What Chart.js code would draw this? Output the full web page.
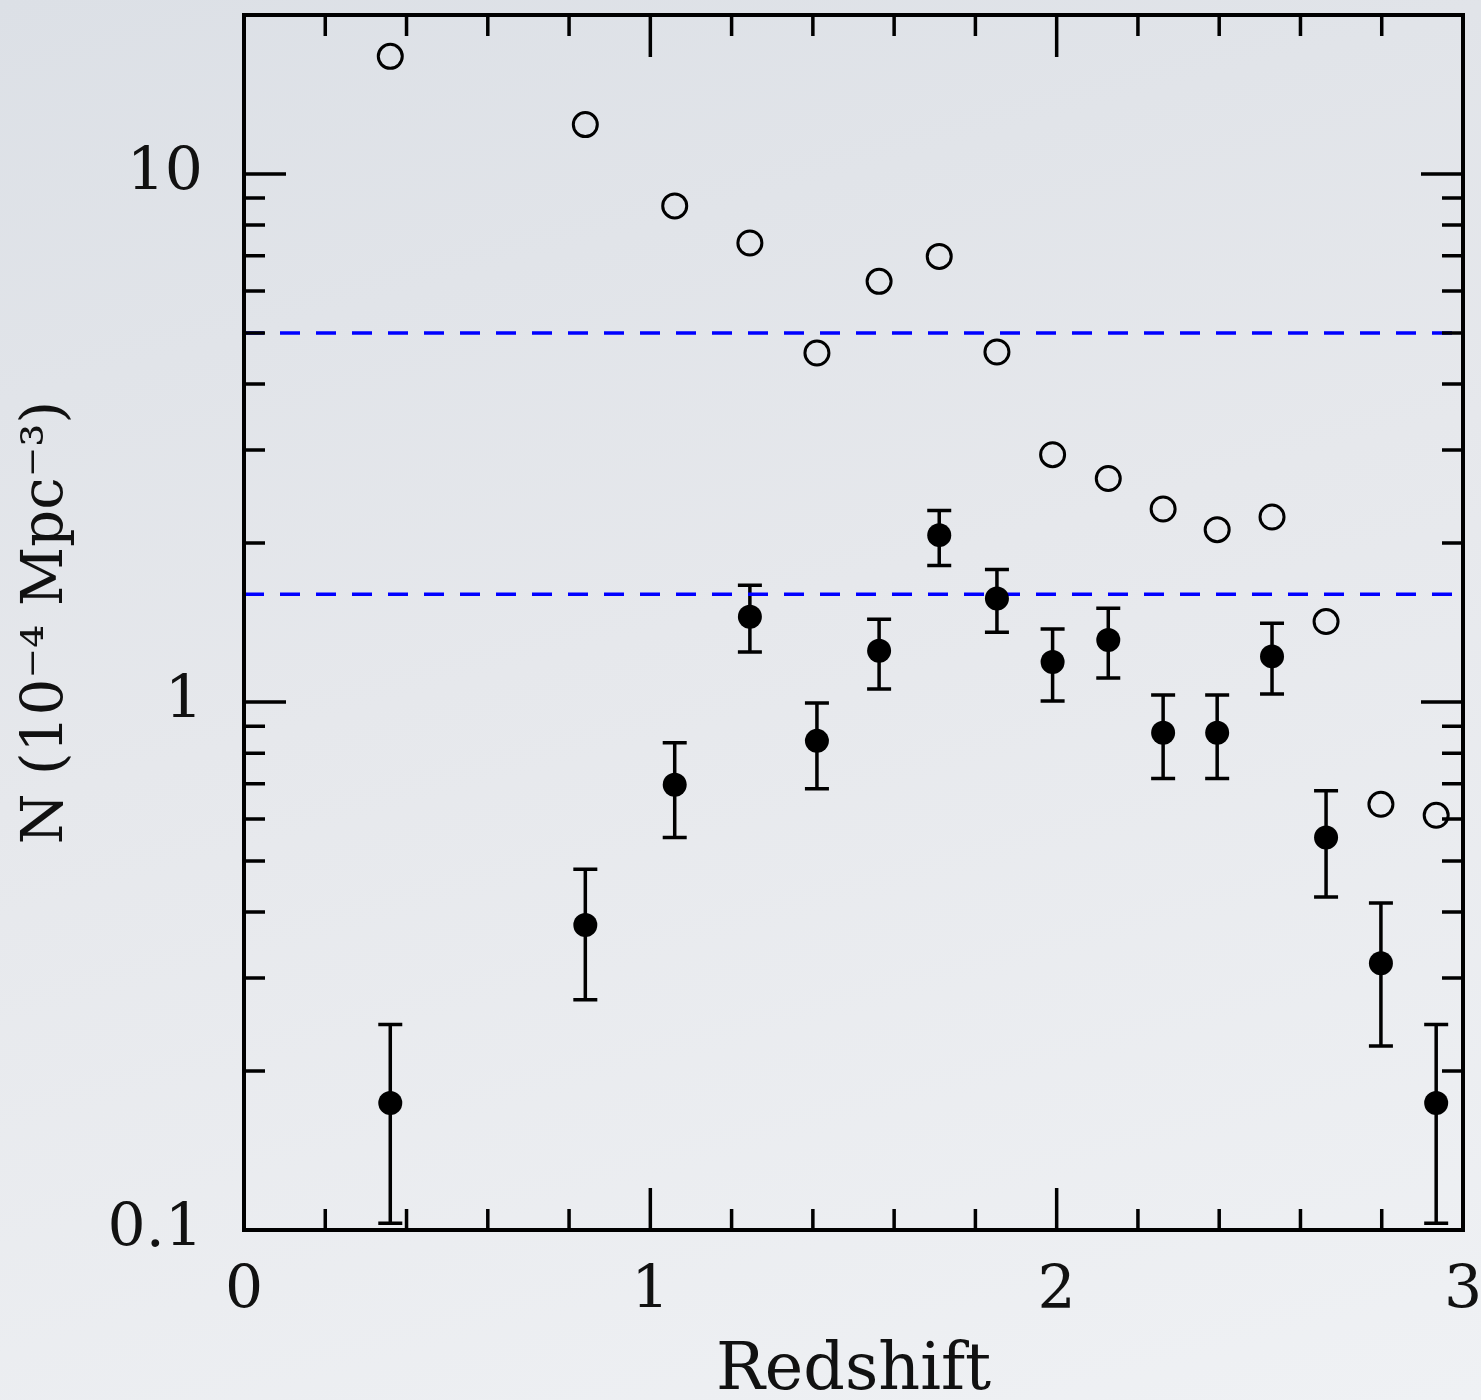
<!DOCTYPE html>
<html>
<head>
<meta charset="utf-8">
<script src="https://cdn.jsdelivr.net/npm/chart.js@4.4.0/dist/chart.umd.min.js"></script>
<style>
  html, body { margin: 0; padding: 0; }
  body {
    width: 1481px; height: 1400px; overflow: hidden;
    background: linear-gradient(165deg, #dce0e6 0%, #e6e8ec 45%, #eff1f4 100%);
  }
</style>
</head>
<body>
<canvas id="chart" width="1481" height="1400"></canvas>
<script>
// values (N in units of 1e-4 Mpc^-3)
var redshift = [0.36, 0.84, 1.06, 1.245, 1.41, 1.563, 1.711, 1.853, 1.99, 2.127, 2.262, 2.395, 2.53, 2.663, 2.798, 2.934]
var totalDensity = [16.7, 12.4, 8.7, 7.4, 4.58, 6.26, 6.98, 4.6, 2.94, 2.65, 2.32, 2.12, 2.24, 1.42, 0.64, 0.61]
var sampleDensity = [0.174, 0.378, 0.697, 1.45, 0.844, 1.25, 2.07, 1.57, 1.19, 1.31, 0.874, 0.874, 1.22, 0.554, 0.32, 0.174]
var sampleLow = [0.103, 0.273, 0.554, 1.243, 0.685, 1.058, 1.814, 1.356, 1.004, 1.11, 0.716, 0.716, 1.035, 0.427, 0.223, 0.103]
var sampleHigh = [0.245, 0.482, 0.837, 1.663, 0.996, 1.434, 2.305, 1.782, 1.374, 1.505, 1.031, 1.031, 1.41, 0.679, 0.416, 0.245]
var refLevels = [5, 1.6]
var xTickValues = [0, 1, 2, 3]
var xTickLabels = ['0', '1', '2', '3']
var yTicks = [0.1, 0.2, 0.3, 0.4, 0.5, 0.6, 0.7, 0.8, 0.9, 1, 2, 3, 4, 5, 6, 7, 8, 9, 10]
var yTickValues = [0.1, 1, 10]
var yTickLabels = ['0.1', '1', '10']

var serif = "'DejaVu Serif', 'Liberation Serif', serif"

function pts(xs, ys) {
    var out = []
    for (var i = 0; i < xs.length; i++) out.push({ x: xs[i], y: ys[i] })
    return out
}

function pickLabel(value, vals, labels) {
    for (var i = 0; i < vals.length; i++) {
        if (Math.abs(value - vals[i]) < 1e-6 * Math.max(1, Math.abs(vals[i]))) return labels[i]
    }
    return ''
}

// no extra room for overflowing labels, the layout padding handles it
function noLabelPadding(s) {
    s.paddingTop = 0
    s.paddingBottom = 0
    s.paddingLeft = 0
    s.paddingRight = 0
}

// vertical error bars with flat caps, under the filled points
var errorBars = {
    id: 'errorBars',
    beforeDatasetsDraw: function (chart) {
        var ctx = chart.ctx
        var xs = chart.scales.x
        var ys = chart.scales.y
        ctx.save()
        ctx.strokeStyle = '#000'
        ctx.lineWidth = 3.5
        for (var i = 0; i < redshift.length; i++) {
            var px = xs.getPixelForValue(redshift[i])
            var lo = ys.getPixelForValue(sampleLow[i])
            var hi = ys.getPixelForValue(sampleHigh[i])
            ctx.beginPath()
            ctx.moveTo(px, lo); ctx.lineTo(px, hi)
            ctx.moveTo(px - 12, lo); ctx.lineTo(px + 12, lo)
            ctx.moveTo(px - 12, hi); ctx.lineTo(px + 12, hi)
            ctx.stroke()
        }
        ctx.restore()
    }
}

// box frame with inward ticks on all four sides
var frameTicks = {
    id: 'frameTicks',
    afterDraw: function (chart) {
        var ctx = chart.ctx
        var a = chart.chartArea
        var xs = chart.scales.x
        var ys = chart.scales.y
        ctx.save()
        ctx.strokeStyle = '#000'
        ctx.lineWidth = 3.5
        ctx.beginPath()
        xs.ticks.forEach(function (t) {
            var px = xs.getPixelForValue(t.value)
            var len = t.label ? 42 : 21
            ctx.moveTo(px, a.bottom); ctx.lineTo(px, a.bottom - len)
            ctx.moveTo(px, a.top); ctx.lineTo(px, a.top + len)
        })
        ys.ticks.forEach(function (t) {
            var py = ys.getPixelForValue(t.value)
            var len = t.label ? 42 : 21
            ctx.moveTo(a.left, py); ctx.lineTo(a.left + len, py)
            ctx.moveTo(a.right, py); ctx.lineTo(a.right - len, py)
        })
        ctx.stroke()
        ctx.lineWidth = 4
        ctx.strokeRect(a.left, a.top, a.right - a.left, a.bottom - a.top)
        ctx.restore()
    }
}

var datasets = [
    {
        label: 'sample',
        data: pts(redshift, sampleDensity),
        pointStyle: 'circle',
        pointRadius: 12,
        pointBackgroundColor: '#000',
        pointBorderColor: '#000',
        pointBorderWidth: 0,
        showLine: false
    },
    {
        label: 'total',
        data: pts(redshift, totalDensity),
        pointStyle: 'circle',
        pointRadius: 12,
        pointBackgroundColor: 'rgba(0,0,0,0)',
        pointBorderColor: '#000',
        pointBorderWidth: 3,
        showLine: false
    }
]
refLevels.forEach(function (lvl) {
    datasets.push({
        type: 'line',
        label: 'level ' + lvl,
        data: [{ x: 0, y: lvl }, { x: 3, y: lvl }],
        borderColor: '#0000ff',
        borderWidth: 3.5,
        borderDash: [20, 16],
        pointRadius: 0,
        fill: false
    })
})

var ctx = document.getElementById('chart').getContext('2d')
var chart = new Chart(ctx, {
    type: 'scatter',
    data: { datasets: datasets },
    options: {
        responsive: false,
        animation: false,
        layout: { padding: { top: 11, right: 18, left: 0, bottom: 0 } },
        plugins: {
            legend: { display: false },
            tooltip: { enabled: false }
        },
        scales: {
            x: {
                type: 'linear',
                min: 0,
                max: 3,
                grid: { display: false, drawTicks: false },
                border: { display: false },
                ticks: {
                    stepSize: 0.2,
                    autoSkip: false,
                    maxRotation: 0,
                    padding: 26,
                    color: '#111',
                    font: { family: serif, size: 60 },
                    callback: function (v) { return pickLabel(v, xTickValues, xTickLabels) }
                },
                title: {
                    display: true,
                    text: 'Redshift',
                    color: '#111',
                    font: { family: serif, size: 65, lineHeight: 0.85 },
                    padding: 0
                },
                afterFit: function (s) { s.height = 170; noLabelPadding(s) }
            },
            y: {
                type: 'logarithmic',
                min: 0.1,
                max: 20,
                grid: { display: false, drawTicks: false },
                border: { display: false },
                afterBuildTicks: function (s) {
                    s.ticks = yTicks.map(function (v) { return { value: v } })
                },
                ticks: {
                    autoSkip: false,
                    padding: 41,
                    color: '#111',
                    font: { family: serif, size: 60 },
                    callback: function (v) { return pickLabel(v, yTickValues, yTickLabels) }
                },
                title: {
                    display: true,
                    text: 'N (10⁻⁴ Mpc⁻³)',
                    color: '#111',
                    font: { family: serif, size: 58 },
                    padding: { top: 12, bottom: 0 }
                },
                afterFit: function (s) { s.width = 244; noLabelPadding(s) }
            }
        }
    },
    plugins: [errorBars, frameTicks]
})
</script>
</body>
</html>
